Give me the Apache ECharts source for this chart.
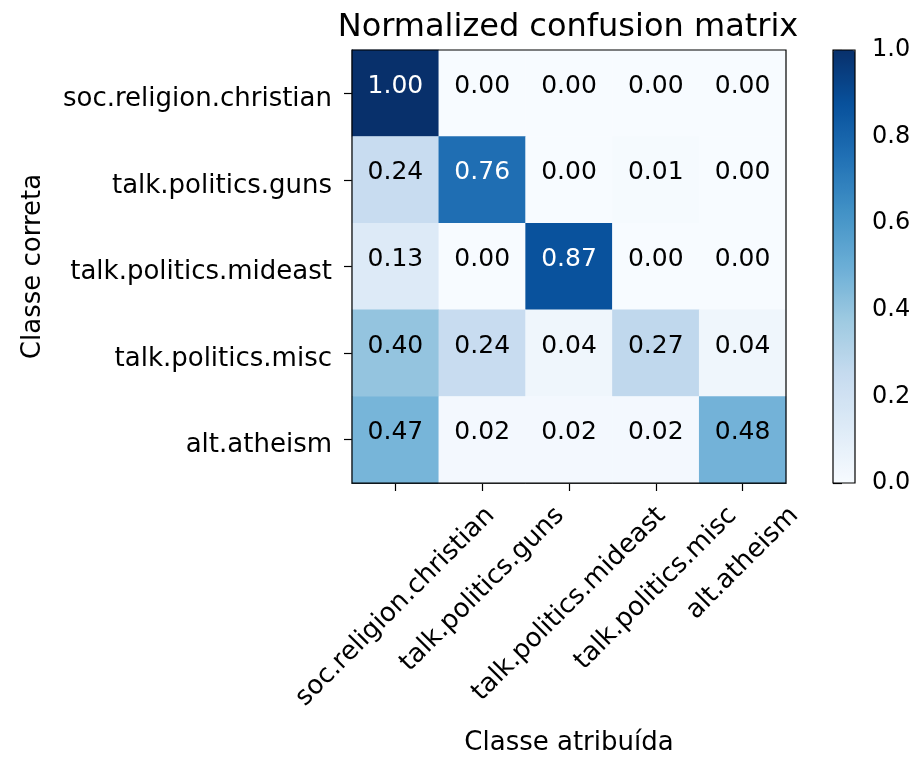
<!DOCTYPE html>
<html>
<head>
<meta charset="utf-8">
<title>Normalized confusion matrix</title>
<script src="https://cdn.jsdelivr.net/npm/echarts@6/dist/echarts.min.js"></script>
<style>
  html, body { margin: 0; padding: 0; background: #fff; }
  #chart { width: 916px; height: 758px; }
</style>
</head>
<body>
<div id="chart"></div>
<script>
// Class names, in the same order on both axes
const categories = [
  'soc.religion.christian',
  'talk.politics.guns',
  'talk.politics.mideast',
  'talk.politics.misc',
  'alt.atheism'
];

// One row per true class: share of its documents assigned to each predicted class
const rowChristian = [1.00, 0.00, 0.00, 0.00, 0.00];
const rowGuns      = [0.24, 0.76, 0.00, 0.01, 0.00];
const rowMideast   = [0.13, 0.00, 0.87, 0.00, 0.00];
const rowMisc      = [0.40, 0.24, 0.04, 0.27, 0.04];
const rowAtheism   = [0.47, 0.02, 0.02, 0.02, 0.48];
const matrixRows = [rowChristian, rowGuns, rowMideast, rowMisc, rowAtheism];

// Colour bar ticks
const colorbarTicks = [0, 0.2, 0.4, 0.6, 0.8, 1.0];

// "Blues" colour map
const blues = ['#f7fbff', '#deebf7', '#c6dbef', '#9ecae1', '#6baed6',
               '#4292c6', '#2171b5', '#08519c', '#08306b'];

const FONT = '"DejaVu Sans", "Liberation Sans", sans-serif';
const LABEL_SIZE = 26;
const TEXT = '#000';

// Heatmap cells: [predicted index, true index, value]; text turns white on dark cells
const threshold = 0.5;
const cells = [];
matrixRows.forEach((row, r) => {
  row.forEach((v, c) => {
    cells.push({
      value: [c, r, v],
      label: { color: v > threshold ? '#fff' : TEXT }
    });
  });
});

const chart = echarts.init(document.getElementById('chart'), null, { renderer: 'canvas' });

chart.setOption({
  backgroundColor: '#fff',
  animation: false,
  textStyle: { fontFamily: FONT, color: TEXT },
  title: {
    text: 'Normalized confusion matrix',
    left: 563,
    top: 7,
    textAlign: 'center',
    textStyle: { fontFamily: FONT, fontSize: 32, fontWeight: 'normal', color: TEXT }
  },
  grid: [
    {
      left: 352, top: 50, width: 434, height: 433,
      show: true, borderColor: '#000', borderWidth: 1.2,
      backgroundColor: 'transparent', z: 10,
      containLabel: false, outerBoundsMode: 'none'
    },
    {
      left: 833, top: 50, width: 22, height: 433,
      show: true, borderColor: '#000', borderWidth: 1.2,
      backgroundColor: 'transparent', z: 10,
      containLabel: false, outerBoundsMode: 'none'
    }
  ],
  xAxis: [
    {
      type: 'category',
      gridIndex: 0,
      data: categories,
      position: 'bottom',
      name: 'Classe atribuída',
      nameLocation: 'middle',
      nameGap: 247,
      nameTextStyle: { fontFamily: FONT, fontSize: LABEL_SIZE, color: TEXT },
      axisLine: { show: true, lineStyle: { color: '#000', width: 1.2 } },
      axisTick: { show: true, interval: 0, alignWithLabel: true, length: 8, lineStyle: { color: '#000', width: 1.2 } },
      // tick labels are placed as rotated text below (centred under each tick)
      axisLabel: { show: false, interval: 0 },
      splitLine: { show: false }
    },
    { type: 'value', gridIndex: 1, min: 0, max: 1, show: false }
  ],
  yAxis: [
    {
      type: 'category',
      gridIndex: 0,
      data: categories,
      inverse: true,
      name: 'Classe correta',
      nameLocation: 'middle',
      nameGap: 306,
      nameRotate: 90,
      nameTextStyle: { fontFamily: FONT, fontSize: LABEL_SIZE, color: TEXT },
      axisLine: { show: true, lineStyle: { color: '#000', width: 1.2 } },
      axisTick: { show: true, interval: 0, alignWithLabel: true, length: 8, lineStyle: { color: '#000', width: 1.2 } },
      axisLabel: {
        interval: 0,
        margin: 20,
        fontFamily: FONT,
        fontSize: LABEL_SIZE,
        color: TEXT,
        // labels sit a little below the tick, on the baseline side
        formatter: v => '{t|' + v + '}',
        rich: {
          t: {
            fontFamily: FONT,
            fontSize: LABEL_SIZE,
            color: TEXT,
            lineHeight: 38,
            verticalAlign: 'bottom'
          }
        }
      },
      splitLine: { show: false }
    },
    {
      type: 'value',
      gridIndex: 1,
      position: 'right',
      min: colorbarTicks[0],
      max: colorbarTicks[colorbarTicks.length - 1],
      interval: 0.2,
      axisLine: { show: false },
      axisTick: { show: true, length: 9, lineStyle: { color: '#000', width: 1.2 } },
      axisLabel: {
        margin: 17,
        fontFamily: FONT,
        fontSize: 24,
        color: TEXT,
        formatter: v => v.toFixed(1)
      },
      splitLine: { show: false }
    }
  ],
  visualMap: {
    type: 'continuous',
    seriesIndex: 0,
    min: 0,
    max: 1,
    calculable: false,
    showLabel: false,
    text: null,
    orient: 'vertical',
    left: 833,
    top: 50,
    padding: 0,
    itemWidth: 22,
    itemHeight: 433,
    inRange: { color: blues },
    hoverLink: false
  },
  series: [
    {
      type: 'heatmap',
      xAxisIndex: 0,
      yAxisIndex: 0,
      data: cells,
      itemStyle: { borderWidth: 0 },
      label: {
        show: true,
        fontFamily: FONT,
        fontSize: 25,
        offset: [0, -7],
        formatter: p => p.value[2].toFixed(2)
      },
      emphasis: { disabled: true }
    }
  ]
});

// Rotated x tick labels: each label's box is centred under its tick, so the
// end of the text sits to the right of the tick by a share of its width.
const measure = document.createElement('canvas').getContext('2d');
measure.font = LABEL_SIZE + 'px ' + FONT;
const band = chart.convertToPixel({ yAxisIndex: 0 }, categories[1]) -
             chart.convertToPixel({ yAxisIndex: 0 }, categories[0]);
const axisY = chart.convertToPixel({ yAxisIndex: 0 }, categories[categories.length - 1]) + band / 2;
const labelPad = 18;
const lineH = LABEL_SIZE * 1.16;
const s45 = Math.SQRT1_2;
const xTickLabels = categories.map(name => {
  const w = measure.measureText(name).width;
  const tickX = chart.convertToPixel({ xAxisIndex: 0 }, name);
  return {
    type: 'text',
    x: tickX + w * s45 / 2,
    y: axisY + labelPad + lineH * s45 / 2,
    rotation: Math.PI / 4,
    silent: true,
    style: {
      text: name,
      fontFamily: FONT,
      fontSize: LABEL_SIZE,
      fill: TEXT,
      align: 'right',
      verticalAlign: 'middle'
    }
  };
});
chart.setOption({ graphic: xTickLabels });
</script>
</body>
</html>
